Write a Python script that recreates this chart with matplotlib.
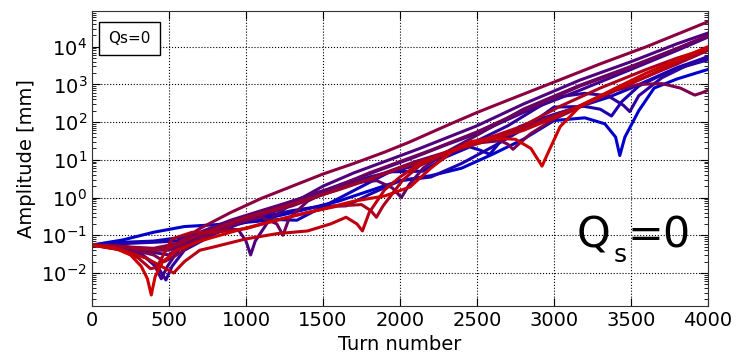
import matplotlib
matplotlib.use("Agg")
import matplotlib.pyplot as plt
import numpy as np

# Amplitude vs turn for each run (mm)
x00 = [0, 200, 400, 600, 800, 1000, 1200, 1400, 1600, 1800, 2000, 2200, 2400, 2600, 2800, 3000, 3200, 3330, 3400, 3427, 3460, 3550, 3650, 3800, 4000]
y00 = [5.5e-2, 7.5e-2, 1.2e-1, 1.7e-1, 1.9e-1, 2.3e-1, 3.2e-1, 5e-1, 8e-1, 1.5, 2.8, 3.8, 6, 1.4e1, 3.5e1, 1.1e2, 1.3e2, 9e1, 4e1, 1.3e1, 4e1, 2e2, 8e2, 1.4e3, 2.5e3]

x01 = [0, 200, 400, 600, 800, 1000, 1200, 1330, 1613, 1934, 2150, 2300, 2453, 2520, 2583, 2650, 2776, 3000, 3168, 3350, 3500, 3650, 3800, 4000]
y01 = [5.5e-2, 6.5e-2, 7e-2, 9e-2, 1.4e-1, 2.2e-1, 2.6e-1, 2.5e-1, 1.0, 4.8, 5, 1.2e1, 2.2e1, 1.8e1, 1.4e1, 3e1, 7.6e1, 1.6e2, 2.6e2, 4.5e2, 8e2, 1.5e3, 2.8e3, 5.4e3]

x02 = [0, 200, 400, 550, 700, 900, 1100, 1300, 1500, 1650, 1800, 2000, 2200, 2400, 2600, 2800, 3000, 3200, 3300, 3373, 3440, 3550, 3700, 3850, 4000]
y02 = [5.5e-2, 6e-2, 6.5e-2, 7e-2, 1.1e-1, 1.8e-1, 3e-1, 4.5e-1, 6e-1, 6e-1, 1.2, 2.8, 3.5, 8, 2.2e1, 6.5e1, 2.5e2, 2.6e2, 2.2e2, 1.45e2, 3.5e2, 9e2, 1.8e3, 3e3, 4.5e3]

x03 = [0, 200, 350, 440, 480, 520, 600, 800, 1000, 1200, 1400, 1600, 1800, 2000, 2200, 2400, 2700, 3000, 3200, 3350, 3450, 3492, 3550, 3700, 3850, 4000]
y03 = [5.5e-2, 4.5e-2, 2.5e-2, 1.2e-2, 6.5e-3, 1.5e-2, 4e-2, 1.1e-1, 2.4e-1, 4.5e-1, 9e-1, 1.8, 3.5, 5.5, 9, 2e1, 8e1, 4.5e2, 5.8e2, 5e2, 2.8e2, 1.9e2, 5e2, 1.5e3, 3e3, 5.5e3]

x04 = [0, 200, 330, 400, 450, 490, 560, 700, 900, 1100, 1300, 1500, 1700, 1900, 2100, 2300, 2500, 2800, 3168, 3500, 3800, 4000]
y04 = [5.5e-2, 4.5e-2, 3e-2, 1.8e-2, 7e-3, 1.5e-2, 4e-2, 1.1e-1, 2.2e-1, 4e-1, 8e-1, 1.5, 3, 6, 1.2e1, 2.5e1, 5e1, 1.8e2, 7e2, 2.5e3, 8e3, 1.8e4]

x05 = [0, 200, 400, 500, 600, 800, 950, 1000, 1030, 1060, 1150, 1300, 1500, 1700, 1900, 2128, 2500, 2800, 3168, 3500, 3800, 4000]
y05 = [5.5e-2, 5e-2, 3.5e-2, 3e-2, 6e-2, 1.5e-1, 1.4e-1, 7e-2, 3e-2, 7e-2, 2.5e-1, 7e-1, 2, 4.5, 9, 2e1, 8e1, 3e2, 1.3e3, 4e3, 1.2e4, 2.3e4]

x06 = [0, 200, 400, 550, 700, 900, 1100, 1300, 1500, 1700, 1850, 1950, 2009, 2060, 2150, 2300, 2500, 2800, 3168, 3500, 3800, 4000]
y06 = [5.5e-2, 5e-2, 4e-2, 5e-2, 1.2e-1, 2.5e-1, 4.5e-1, 8e-1, 1.5, 2.5, 2.8, 1.8, 1.0, 2.2, 6, 1.6e1, 4.5e1, 2.2e2, 9.5e2, 3e3, 9e3, 1.9e4]

x07 = [0, 200, 400, 500, 700, 900, 1100, 1200, 1240, 1280, 1400, 1600, 1800, 2000, 2200, 2500, 2800, 3168, 3500, 3800, 4000]
y07 = [5.5e-2, 5e-2, 4e-2, 4e-2, 8e-2, 2e-1, 3e-1, 2e-1, 1e-1, 2.8e-1, 8e-1, 2, 4.5, 9, 1.8e1, 5.5e1, 2e2, 9e2, 2.8e3, 9e3, 2e4]

x08 = [0, 200, 400, 470, 550, 700, 900, 1100, 1300, 1500, 1700, 1900, 2100, 2300, 2500, 2650, 2700, 2734, 2770, 2850, 3000, 3168, 3400, 3550, 3700, 3820, 3914, 3960, 4000]
y08 = [5.5e-2, 4.8e-2, 3e-2, 2e-2, 3e-2, 8e-2, 1.8e-1, 3.5e-1, 6e-1, 1.2, 2.3, 4.5, 9, 1.6e1, 2.8e1, 3.2e1, 2.6e1, 1.9e1, 2.6e1, 5e1, 1.2e2, 2.5e2, 7e2, 1e3, 1.05e3, 8e2, 5.2e2, 6e2, 7e2]

x09 = [0, 200, 400, 550, 700, 900, 1100, 1300, 1500, 1700, 1900, 2065, 2300, 2500, 2700, 3000, 3300, 3600, 4000]
y09 = [5.5e-2, 5e-2, 4.5e-2, 6e-2, 1.5e-1, 4e-1, 9.5e-1, 2, 4.2, 8, 1.6e1, 3e1, 8e1, 1.8e2, 3.8e2, 1.15e3, 3.5e3, 1e4, 4.6e4]

x10 = [0, 200, 400, 500, 600, 800, 1000, 1200, 1400, 1600, 1800, 2000, 2200, 2400, 2600, 2800, 3000, 3200, 3400, 3600, 3800, 4000]
y10 = [5.5e-2, 5e-2, 4e-2, 4.5e-2, 7e-2, 1.5e-1, 3e-1, 5e-1, 9e-1, 1.6, 3, 6, 1.1e1, 2e1, 3.5e1, 7e1, 1.5e2, 3e2, 7e2, 1.6e3, 3.5e3, 8e3]

x11 = [0, 200, 300, 380, 420, 520, 650, 800, 1000, 1200, 1400, 1600, 1750, 1810, 1847, 1890, 2018, 2128, 2300, 2450, 2800, 3037, 3300, 3600, 3800, 4000]
y11 = [5.5e-2, 4e-2, 2.5e-2, 1.3e-2, 1.4e-2, 8e-2, 1.2e-1, 1.2e-1, 1.5e-1, 2.5e-1, 4e-1, 6e-1, 6.5e-1, 4.5e-1, 3e-1, 6e-1, 2.9, 7, 1.5e1, 2.5e1, 8e1, 2.6e2, 8e2, 2.5e3, 5e3, 9e3]

x12 = [0, 200, 350, 450, 530, 600, 700, 800, 1000, 1200, 1400, 1550, 1650, 1720, 1756, 1800, 1900, 2000, 2128, 2300, 2500, 2800, 3037, 3300, 3600, 3800, 4000]
y12 = [5.5e-2, 4e-2, 2.5e-2, 1.5e-2, 1e-2, 2e-2, 4e-2, 5e-2, 8e-2, 1.1e-1, 1.3e-1, 2e-1, 3e-1, 2e-1, 1.3e-1, 4e-1, 1.6, 3.5, 8, 1.6e1, 2.8e1, 6e1, 1.5e2, 5e2, 1.6e3, 4e3, 9e3]

x13 = [0, 150, 250, 320, 360, 385, 410, 460, 550, 700, 900, 1100, 1300, 1500, 1700, 1900, 2065, 2200, 2350, 2453, 2600, 2750, 2850, 2922, 2960, 3040, 3168, 3400, 3600, 3800, 4000]
y13 = [5.5e-2, 4.5e-2, 3e-2, 1.5e-2, 7e-3, 2.6e-3, 8e-3, 2e-2, 4e-2, 7e-2, 1.2e-1, 2e-1, 3.2e-1, 5e-1, 8e-1, 1.1, 1.9, 6, 1.8e1, 3e1, 3.8e1, 3.5e1, 2e1, 6.8, 1.5e1, 7.6e1, 2.6e2, 8e2, 2e3, 4.5e3, 1e4]

runs = [(x00, y00), (x01, y01), (x02, y02), (x03, y03), (x04, y04), (x05, y05), (x06, y06),
        (x07, y07), (x08, y08), (x09, y09), (x10, y10), (x11, y11), (x12, y12), (x13, y13)]

fig = plt.figure(figsize=(7.37, 3.57), dpi=100)
ax = fig.add_axes([0.1248, 0.1429, 0.8359, 0.8271])

blue = np.array([0.0, 0.0, 0.8])
red = np.array([0.8, 0.0, 0.0])
n = len(runs)
for i, (xs, ys) in enumerate(runs):
    f = i / (n - 1)
    ax.plot(xs, ys, color=tuple((1 - f) * blue + f * red), lw=2.2,
            solid_joinstyle="round")

ax.set_yscale("log")
ax.set_xlim(0, 4000)
ax.set_ylim(1.33e-3, 9e4)
ax.set_yticks([1e-2, 1e-1, 1e0, 1e1, 1e2, 1e3, 1e4])
ax.grid(True, which="major", color="black", linestyle=":", linewidth=0.8)
ax.tick_params(which="both", direction="in", top=True, right=True, labelsize=14)
ax.tick_params(which="major", length=6)
ax.tick_params(which="minor", length=3)
ax.set_xlabel("Turn number", fontsize=14)
ax.set_ylabel("Amplitude [mm]", fontsize=14)
for sp in ax.spines.values():
    sp.set_color("#333333")

ax.text(0.026, 0.907, "Qs=0", transform=ax.transAxes, fontsize=11,
        ha="left", va="center",
        bbox=dict(boxstyle="square,pad=0.6", fc="white", ec="black", lw=1))

# big label: Q, lowered small s, then =0
ax.text(0.787, 0.197, "Q", transform=ax.transAxes, fontsize=31,
        ha="left", va="baseline")
ax.text(0.846, 0.149, "s", transform=ax.transAxes, fontsize=18,
        ha="left", va="baseline")
ax.text(0.869, 0.197, "=0", transform=ax.transAxes, fontsize=31,
        ha="left", va="baseline")

fig.savefig("out.png", dpi=100)
